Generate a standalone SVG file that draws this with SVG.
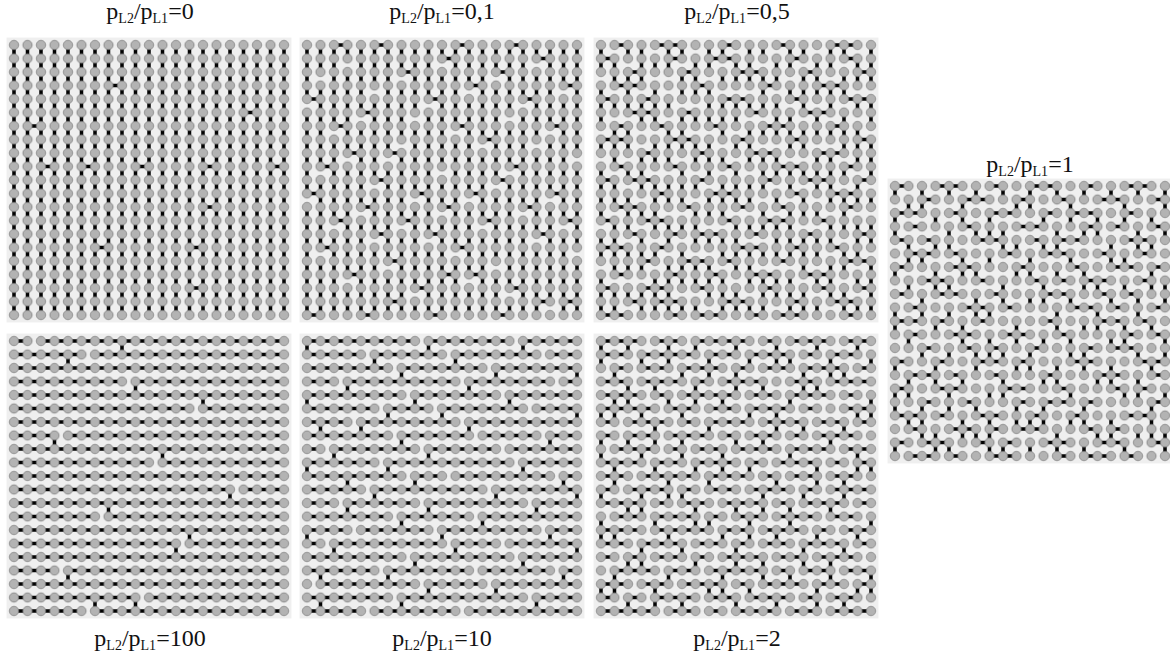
<svg xmlns="http://www.w3.org/2000/svg" xmlns:xlink="http://www.w3.org/1999/xlink" width="1170" height="652" viewBox="0 0 1170 652">
<style>
.bg{fill:#efefef}
.bond{fill:none;stroke:#000;stroke-width:0.26;stroke-linecap:butt}
.lbl{font-family:"Liberation Serif","DejaVu Serif",serif;font-size:24px;fill:#111}
.sub{font-size:14px}
</style>
<defs>
<pattern id="dots" patternUnits="userSpaceOnUse" x="-0.5" y="-0.5" width="1" height="1">
<circle cx="0.5" cy="0.5" r="0.34" fill="#b3b3b3" stroke="#868686" stroke-width="0.07"/>
</pattern>
</defs>
<rect width="1170" height="652" fill="#fff"/>

<g id="panel-0" transform="translate(14 45) scale(13.5)">
<rect class="bg" x="-0.55" y="-0.55" width="21.1" height="21.1"/>
<path class="bond" d="M0 0v20M1 0v20M2 0v20M3 0v20M4 0v20M5 0v20M6 0v20M7 0v20M8 0v20M9 0v20M10 0v20M11 0v20M12 0v20M13 0v20M14 0v20M15 0v20M16 0v20M17 0v20M18 0v20M19 0v20M20 0v20M1 6h1M2 9h1M5 9h1M9 9h1M14 9h1M19 9h1M14 12h1M6 15h1M13 15h1M13 18h1M7 3h1M17 5h1"/>
<rect x="-0.5" y="-0.5" width="21" height="21" fill="url(#dots)"/>
</g>

<g id="panel-01" transform="translate(307 45) scale(13.5)">
<rect class="bg" x="-0.55" y="-0.55" width="21.1" height="21.1"/>
<path id="bonds-b" class="bond" d="M0 0v4M0 5v6M0 12v8M1 0v2M1 3v6M1 10v5M1 16v4M2 0v6M2 7v6M2 14v6M3 0v1M3 2v6M3 9v8M3 18v2M4 0v5M4 6v6M4 13v7M5 0v3M5 4v6M5 11v3M5 15v5M6 0v8M6 9v7M6 17v3M7 0v2M7 3v4M7 8v5M7 14v6M8 0v5M8 6v5M8 12v6M8 19v1M9 0v4M9 5v9M9 15v5M10 0v1M10 2v7M10 10v2M10 13v7M11 0v6M11 7v8M11 16v4M12 0v3M12 4v7M12 12v5M12 18v2M13 0v7M13 8v5M13 14v6M14 0v2M14 3v7M14 11v5M14 17v3M15 0v5M15 6v3M15 10v8M15 19v1M16 0v4M16 5v7M16 13v7M17 0v1M17 2v5M17 8v6M17 15v5M18 0v6M18 7v4M18 12v7M19 0v3M19 4v9M19 14v6M20 0v8M20 9v6M20 16v4M0 4h1M2 6h1M4 5h1M6 8h1M7 2h1M9 4h1M10 1h1M12 3h1M14 2h1M16 4h1M17 1h1M19 3h1M1 9h1M3 8h1M5 10h1M8 11h1M11 6h1M13 7h1M15 9h1M18 6h1M19 13h1M0 11h1M2 13h1M4 12h1M7 13h1M9 14h1M10 12h1M12 11h1M14 10h1M16 12h1M17 14h1M1 15h1M3 17h1M5 14h1M6 16h1M8 18h1M11 15h1M12 17h1M13 13h1M15 18h1M18 11h1M19 19h1M0 20h1M4 20h1M9 20h1M14 20h1M17 19h1M2 0h1M5 0h1M11 0h1M15 0h1M6 19h1M10 17h1"/>
<rect x="-0.5" y="-0.5" width="21" height="21" fill="url(#dots)"/>
</g>

<g id="panel-05" transform="translate(601 45) scale(13.5)">
<rect class="bg" x="-0.55" y="-0.55" width="21.1" height="21.1"/>
<path id="bonds-c" class="bond" d="M0 0v2M0 3v3M0 7v1M0 9v4M0 14v2M0 17v3M1 1v2M1 4v1M1 6v3M1 10v2M1 13v4M1 18v2M2 0v1M2 2v3M2 6v2M2 9v1M2 11v3M2 15v2M2 18v1M3 0v3M3 4v2M3 8v3M3 12v1M3 14v3M3 18v2M4 1v1M4 3v3M4 7v2M4 10v4M4 15v1M4 17v3M5 0v2M5 4v1M5 6v3M5 10v2M5 13v2M5 16v4M6 0v1M6 2v2M6 5v3M6 9v3M6 13v1M6 15v3M6 19v1M7 1v3M7 5v1M7 7v2M7 10v1M7 12v3M7 16v2M7 19v1M8 0v2M8 3v3M8 7v3M8 11v2M8 14v1M8 16v3M9 0v1M9 2v1M9 4v3M9 8v1M9 10v3M9 14v2M9 17v3M10 1v2M10 4v2M10 7v1M10 9v3M10 13v4M10 18v2M11 0v3M11 4v1M11 6v3M11 10v2M11 13v1M11 15v3M11 19v1M12 0v1M12 2v3M12 6v1M12 8v3M12 12v2M12 15v1M12 17v3M13 1v2M13 4v3M13 8v2M13 11v1M13 13v3M13 17v2M14 0v2M14 3v1M14 5v3M14 9v2M14 12v4M14 17v3M15 0v1M15 2v3M15 6v2M15 9v1M15 11v2M15 14v3M15 18v2M16 1v3M16 5v2M16 8v3M16 12v1M16 14v2M16 17v1M16 19v1M17 0v2M17 3v2M17 6v1M17 8v4M17 13v2M17 16v3M18 0v1M18 2v2M18 5v3M18 9v1M18 11v3M18 15v2M18 18v2M19 1v2M19 4v1M19 6v3M19 10v2M19 13v3M19 17v1M19 19v1M20 0v3M20 4v2M20 7v3M20 11v1M20 13v2M20 16v4M1 0h1M4 0h2M9 0h1M13 0h1M17 0h2M0 1h1M5 1h1M8 1h2M14 1h1M18 1h1M2 2h1M6 2h1M10 2h2M15 2h1M19 2h1M1 3h2M7 3h1M12 3h1M16 3h2M0 4h1M3 4h1M9 4h2M14 4h1M18 4h2M2 5h2M6 5h1M11 5h1M15 5h2M1 6h1M4 6h1M8 6h1M12 6h2M17 6h1M0 7h2M5 7h2M10 7h1M14 7h1M19 7h1M3 8h1M7 8h1M11 8h2M16 8h2M1 9h1M5 9h1M9 9h1M13 9h2M18 9h1M0 10h1M2 10h2M7 10h1M12 10h1M15 10h2M19 10h1M4 11h1M8 11h2M14 11h1M17 11h2M1 12h2M6 12h1M10 12h1M13 12h1M18 12h1M0 13h1M3 13h2M9 13h1M12 13h2M16 13h1M2 14h1M5 14h1M7 14h2M11 14h1M15 14h1M19 14h1M0 15h2M4 15h1M10 15h2M14 15h1M17 15h1M3 16h1M6 16h2M9 16h1M13 16h1M18 16h2M1 17h1M5 17h1M8 17h1M11 17h2M15 17h2M0 18h1M3 18h2M7 18h1M12 18h1M16 18h1M19 18h1M2 19h1M4 19h2M9 19h2M14 19h1M17 19h2M0 20h2M5 20h1M7 20h2M11 20h1M13 20h2M18 20h1"/>
<rect x="-0.5" y="-0.5" width="21" height="21" fill="url(#dots)"/>
</g>

<g id="panel-1" transform="translate(895 186) scale(13.5)">
<rect class="bg" x="-0.55" y="-0.55" width="21.1" height="21.1"/>
<path class="bond" d="M0 0v1M0 2v2M0 6v1M0 9v2M0 13v1M0 15v2M0 19v1M1 1v1M1 4v2M1 7v1M1 11v1M1 14v2M1 17v1M2 0v2M2 5v1M2 8v2M2 12v1M2 16v3M3 2v1M3 4v1M3 6v2M3 10v1M3 13v2M3 18v2M4 0v1M4 3v2M4 7v1M4 9v1M4 12v1M4 15v2M4 19v1M5 1v2M5 5v2M5 10v2M5 14v1M5 17v2M6 0v1M6 3v1M6 6v1M6 8v2M6 12v2M6 16v1M6 18v1M7 2v2M7 5v1M7 9v1M7 11v2M7 15v1M7 17v3M8 0v1M8 3v2M8 7v2M8 12v1M8 14v2M8 19v1M9 1v1M9 4v1M9 6v1M9 10v2M9 13v1M9 16v2M10 0v2M10 5v2M10 8v1M10 12v2M10 17v1M10 19v1M11 2v1M11 4v1M11 7v2M11 11v1M11 14v1M11 16v2M12 0v1M12 3v2M12 6v1M12 9v2M12 13v2M12 18v2M13 1v2M13 5v1M13 8v1M13 11v2M13 15v1M13 17v1M14 0v1M14 3v1M14 6v2M14 10v1M14 12v2M14 16v2M14 19v1M15 2v2M15 7v1M15 9v2M15 14v1M15 18v1M16 0v1M16 4v2M16 8v1M16 11v1M16 13v2M16 17v2M17 1v2M17 5v1M17 7v1M17 10v2M17 15v1M17 19v1M18 0v1M18 3v2M18 8v2M18 12v1M18 14v2M18 18v1M19 2v1M19 4v1M19 6v2M19 10v1M19 13v1M19 16v3M20 0v2M20 3v1M20 7v2M20 11v2M20 15v1M20 18v2M0 0h1M3 0h2M7 0h1M10 0h2M14 0h1M17 0h2M2 1h1M5 1h2M9 1h1M12 1h1M15 1h2M19 1h1M0 2h2M4 2h1M7 2h2M11 2h1M13 2h2M17 2h1M1 3h1M5 3h1M9 3h2M14 3h1M16 3h1M19 3h1M0 4h1M2 4h1M6 4h2M10 4h1M12 4h2M17 4h2M1 5h2M4 5h1M8 5h1M11 5h2M15 5h1M18 5h1M0 6h1M4 6h2M9 6h1M13 6h1M16 6h2M19 6h1M2 7h2M6 7h1M10 7h1M12 7h1M14 7h2M18 7h1M0 8h1M3 8h2M7 8h1M11 8h2M15 8h1M17 8h1M1 9h1M5 9h2M8 9h1M13 9h2M16 9h1M19 9h1M0 10h2M3 10h1M6 10h1M11 10h1M15 10h2M18 10h1M1 11h1M4 11h2M8 11h2M12 11h1M17 11h1M19 11h1M2 12h1M5 12h1M7 12h1M10 12h1M14 12h1M16 12h2M0 13h1M3 13h1M6 13h2M9 13h1M13 13h2M18 13h2M1 14h2M4 14h1M7 14h1M11 14h1M15 14h2M19 14h1M0 15h1M3 15h2M8 15h2M12 15h1M16 15h1M18 15h1M2 16h1M5 16h1M9 16h1M11 16h2M14 16h1M19 16h1M0 17h2M3 17h1M6 17h2M10 17h1M13 17h1M17 17h2M1 18h1M4 18h2M7 18h1M9 18h2M14 18h1M16 18h1M0 19h1M2 19h2M6 19h1M8 19h1M11 19h2M15 19h2M19 19h1M1 20h2M4 20h1M7 20h2M12 20h1M14 20h2M17 20h1"/>
<rect x="-0.5" y="-0.5" width="21" height="21" fill="url(#dots)"/>
</g>

<g id="panel-100" transform="translate(14 341) scale(13.5)">
<rect class="bg" x="-0.55" y="-0.55" width="21.1" height="21.1"/>
<path class="bond" d="M0 0h1M2 0h18M0 1h5M6 1h14M0 2h20M0 3h8M9 3h11M0 4h20M0 5h13M14 5h6M0 6h20M0 7h3M4 7h16M0 8h20M0 9h10M11 9h9M0 10h20M0 11h16M17 11h3M0 12h20M0 13h6M7 13h13M0 14h20M0 15h12M13 15h7M0 16h20M0 17h3M4 17h16M0 18h20M0 19h9M10 19h10M0 20h5M6 20h14M4 1v1M8 0v1M9 3v1M14 4v1M3 7v1M11 8v1M16 11v1M7 12v1M12 15v1M13 14v1M4 17v1M9 19v1M6 19v1"/>
<rect x="-0.5" y="-0.5" width="21" height="21" fill="url(#dots)"/>
</g>

<g id="panel-10" transform="translate(307 341) scale(13.5)">
<rect class="bg" x="-0.55" y="-0.55" width="21.1" height="21.1"/>
<use href="#bonds-b" xlink:href="#bonds-b" transform="matrix(0 1 -1 0 20 0)"/>
<rect x="-0.5" y="-0.5" width="21" height="21" fill="url(#dots)"/>
</g>

<g id="panel-2" transform="translate(601 341) scale(13.5)">
<rect class="bg" x="-0.55" y="-0.55" width="21.1" height="21.1"/>
<use href="#bonds-c" xlink:href="#bonds-c" transform="matrix(0 1 -1 0 20 0)"/>
<rect x="-0.5" y="-0.5" width="21" height="21" fill="url(#dots)"/>
</g>

<g id="labels">
<text class="lbl" x="150" y="19" text-anchor="middle">p<tspan class="sub" dy="4">L2</tspan><tspan dy="-4">/p</tspan><tspan class="sub" dy="4">L1</tspan><tspan dy="-4">=0</tspan></text>
<text class="lbl" x="442" y="19" text-anchor="middle">p<tspan class="sub" dy="4">L2</tspan><tspan dy="-4">/p</tspan><tspan class="sub" dy="4">L1</tspan><tspan dy="-4">=0,1</tspan></text>
<text class="lbl" x="737" y="19" text-anchor="middle">p<tspan class="sub" dy="4">L2</tspan><tspan dy="-4">/p</tspan><tspan class="sub" dy="4">L1</tspan><tspan dy="-4">=0,5</tspan></text>
<text class="lbl" x="1030" y="172" text-anchor="middle">p<tspan class="sub" dy="4">L2</tspan><tspan dy="-4">/p</tspan><tspan class="sub" dy="4">L1</tspan><tspan dy="-4">=1</tspan></text>
<text class="lbl" x="150" y="646" text-anchor="middle">p<tspan class="sub" dy="4">L2</tspan><tspan dy="-4">/p</tspan><tspan class="sub" dy="4">L1</tspan><tspan dy="-4">=100</tspan></text>
<text class="lbl" x="442" y="646" text-anchor="middle">p<tspan class="sub" dy="4">L2</tspan><tspan dy="-4">/p</tspan><tspan class="sub" dy="4">L1</tspan><tspan dy="-4">=10</tspan></text>
<text class="lbl" x="737" y="646" text-anchor="middle">p<tspan class="sub" dy="4">L2</tspan><tspan dy="-4">/p</tspan><tspan class="sub" dy="4">L1</tspan><tspan dy="-4">=2</tspan></text>
</g>
</svg>
